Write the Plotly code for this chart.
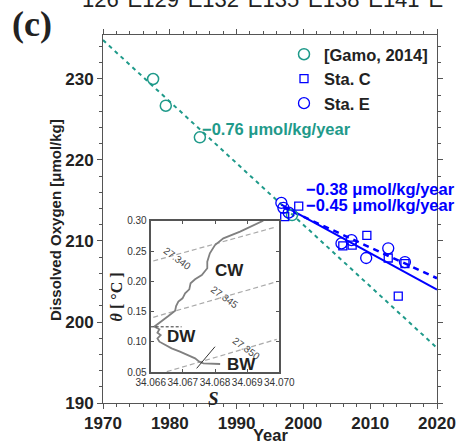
import plotly.graph_objects as go

# ---------------- data ----------------
gamo_year = [1977.5, 1979.4, 1984.5, 1998.3]
gamo_do = [230.0, 226.7, 222.8, 213.2]

staC_year = [1997.2, 1999.3, 2005.9, 2007.3, 2009.5, 2012.7, 2014.2, 2015.2]
staC_do = [213.0, 214.3, 209.4, 209.5, 210.7, 207.9, 203.2, 207.2]

staE_year = [1996.7, 1997.0, 1997.8, 2005.7, 2007.2, 2009.4, 2012.7, 2015.2]
staE_do = [214.7, 214.1, 213.5, 209.7, 210.1, 207.9, 209.1, 207.4]

# trends: (slope per year, value at reference year, start year, end year)
gamo_trend = dict(slope=-0.76, ref_year=1970, ref_val=234.8, x0=1970, x1=2020)
staE_trend = dict(slope=-0.45, ref_year=2000, ref_val=213.0, x0=1996.7, x1=2020)
staC_trend = dict(slope=-0.38, ref_year=2000, ref_val=213.0, x0=1997.0, x1=2020)

# inset theta-S profile
prof_S = [34.06950, 34.06878, 34.06826, 34.06800, 34.06784, 34.06776, 34.06776,
          34.06759, 34.06738, 34.06724, 34.06720, 34.06707, 34.06699, 34.06686,
          34.06679, 34.06676, 34.06655, 34.06639, 34.06621, 34.06611, 34.06627,
          34.06621, 34.06631, 34.06621, 34.06627, 34.06645, 34.06665, 34.06691,
          34.06714, 34.06738, 34.06751, 34.06764, 34.06816]
prof_T = [0.3000, 0.2819, 0.2709, 0.2599, 0.2462, 0.2324, 0.2215,
          0.2105, 0.2033, 0.1967, 0.1868, 0.1802, 0.1720, 0.1665,
          0.1593, 0.1516, 0.1428, 0.1362, 0.1296, 0.1252, 0.1209,
          0.1154, 0.1115, 0.1060, 0.1005, 0.0950, 0.0895, 0.0840,
          0.0785, 0.0730, 0.0675, 0.0648, 0.0637]

# isopycnals (sigma-theta): end points
iso_labels = ["27.340", "27.345", "27.350"]
iso_S = [[34.06608, 34.06992], [34.06608, 34.06992], [34.06650, 34.06992]]
iso_T = [[0.2335, 0.2900], [0.1407, 0.1994], [0.0510, 0.1044]]
iso_lab_S = [34.06683, 34.06831, 34.06898]
iso_lab_T = [0.2379, 0.1736, 0.0895]

dw_S = [34.0660, 34.06696]
dw_T = [0.125, 0.125]
bw_S = [34.06743, 34.06800]
bw_T = [0.0565, 0.0922]

water_labels = ["CW", "DW", "BW"]
water_S = [34.06844, 34.06696, 34.06883]
water_T = [0.2171, 0.1087, 0.0632]

TEAL = "#1f9a8a"
BLUE = "#0000ff"
FONT = "Arial, Liberation Sans, sans-serif"

W, H = 456, 444
ML, MR, MT, MB = 103, 19, 35, 41


def px2paper(px, py):
    return (px - ML) / (W - ML - MR), (H - MB - py) / (H - MT - MB)


def trend_line(t):
    xs = [t["x0"], t["x1"]]
    ys = [t["ref_val"] + t["slope"] * (x - t["ref_year"]) for x in xs]
    return xs, ys


fig = go.Figure()

# trend lines
x, y = trend_line(gamo_trend)
fig.add_trace(go.Scatter(x=x, y=y, mode="lines", showlegend=False,
                         line=dict(color=TEAL, width=2, dash="4px,4px")))
x, y = trend_line(staE_trend)
fig.add_trace(go.Scatter(x=x, y=y, mode="lines", showlegend=False,
                         line=dict(color=BLUE, width=2)))
x, y = trend_line(staC_trend)
fig.add_trace(go.Scatter(x=x, y=y, mode="lines", showlegend=False,
                         line=dict(color=BLUE, width=2.5, dash="6px,5px")))

# data markers
fig.add_trace(go.Scatter(x=gamo_year, y=gamo_do, mode="markers", name="[Gamo, 2014]",
                         marker=dict(symbol="circle-open", size=11, color=TEAL,
                                     line=dict(width=1.5, color=TEAL))))
fig.add_trace(go.Scatter(x=staC_year, y=staC_do, mode="markers", name="Sta. C",
                         marker=dict(symbol="square-open", size=8, color=BLUE,
                                     line=dict(width=1.3, color=BLUE))))
fig.add_trace(go.Scatter(x=staE_year, y=staE_do, mode="markers", name="Sta. E",
                         marker=dict(symbol="circle-open", size=11, color=BLUE,
                                     line=dict(width=1.3, color=BLUE))))

# inset traces
for s, t in zip(iso_S, iso_T):
    fig.add_trace(go.Scatter(x=s, y=t, xaxis="x2", yaxis="y2", mode="lines",
                             showlegend=False,
                             line=dict(color="#aaaaaa", width=1.2, dash="5px,3px")))
fig.add_trace(go.Scatter(x=prof_S, y=prof_T, xaxis="x2", yaxis="y2", mode="lines",
                         showlegend=False, line=dict(color="#808080", width=1.8)))
fig.add_trace(go.Scatter(x=dw_S, y=dw_T, xaxis="x2", yaxis="y2", mode="lines",
                         showlegend=False, line=dict(color="#333333", width=1, dash="3px,2px")))
fig.add_trace(go.Scatter(x=bw_S, y=bw_T, xaxis="x2", yaxis="y2", mode="lines",
                         showlegend=False, line=dict(color="#333333", width=1)))

axis_common = dict(showline=True, linecolor="#555555", linewidth=1, mirror="ticks",
                   ticks="outside", ticklen=5, tickcolor="#555555", showgrid=False,
                   zeroline=False,
                   tickfont=dict(family=FONT, size=17, color="#222222", weight="bold"))

ix0, iy0 = px2paper(150.7, 372.3)
ix1, iy1 = px2paper(279.3, 220.7)

inset_common = dict(showline=True, linecolor="#555555", linewidth=2, mirror="ticks",
                    ticks="inside", ticklen=3, tickcolor="#555555", showgrid=False,
                    zeroline=False, tickangle=0,
                    tickfont=dict(family=FONT, size=10, color="#333333"))

fig.update_layout(
    width=W, height=H,
    margin=dict(l=ML, r=MR, t=MT, b=MB, autoexpand=False),
    paper_bgcolor="white", plot_bgcolor="white",
    font=dict(family=FONT, color="#222222"),
    xaxis=dict(range=[1970, 2020], dtick=10, tick0=1970,
               minor=dict(dtick=2, ticklen=3, ticks="outside", tickcolor="#555555"),
               **axis_common),
    yaxis=dict(range=[190, 235.43], dtick=10, tick0=190,
               minor=dict(dtick=2, ticklen=3, ticks="outside", tickcolor="#555555"),
               **axis_common),
    xaxis2=dict(domain=[ix0, ix1], anchor="y2", range=[34.066, 34.070], dtick=0.001,
                tick0=34.066, tickformat=".3f", **inset_common),
    yaxis2=dict(domain=[iy0, iy1], anchor="x2", range=[0.05, 0.30], dtick=0.05,
                tick0=0.05, tickformat=".2f", **inset_common),
    legend=dict(x=px2paper(284, 0)[0], y=px2paper(0, 37)[1], xanchor="left",
                yanchor="top", bgcolor="rgba(0,0,0,0)", borderwidth=0,
                font=dict(family=FONT, size=16.5, color="#222222", weight="bold"),
                tracegroupgap=0, itemsizing="trace"),
)

annotations = []


def add_text(px, py, text, size, color="#222222", weight="bold", family=FONT,
             xanchor="left", yanchor="middle", angle=0, italic=False):
    x, y = px2paper(px, py)
    annotations.append(dict(x=x, y=y, xref="paper", yref="paper", text=text,
                            showarrow=False, xanchor=xanchor, yanchor=yanchor,
                            textangle=angle,
                            font=dict(family=family, size=size, color=color,
                                      weight=weight,
                                      style="italic" if italic else "normal")))


# trend labels
add_text(200, 129, "−0.76 μmol/kg/year", 16.5, color=TEAL)
add_text(304, 189, "−0.38 μmol/kg/year", 16.5, color=BLUE)
add_text(304, 205, "−0.45 μmol/kg/year", 16.5, color=BLUE)

# axis titles
add_text(55, 220, "Dissolved Oxygen [μmol/kg]", 15, xanchor="center", angle=-90)
add_text(270, 435, "Year", 16.5, xanchor="center")

# panel label and clipped top text
add_text(32, 24, "(c)", 36, family="Liberation Serif, Times New Roman, serif",
         xanchor="center")
add_text(80, 14, "126°E129°E132°E135°E138°E141°E", 22, weight="normal",
         yanchor="bottom")

# inset titles
add_text(116.7, 296.7, "<i>θ</i> [ °C ]", 16, xanchor="center", angle=-90,
         family="Liberation Serif, Times New Roman, serif")
add_text(213, 398, "<i>S</i>", 19, xanchor="center",
         family="Liberation Serif, Times New Roman, serif")

# inset labels in data coordinates
for lab, s, t in zip(iso_labels, iso_lab_S, iso_lab_T):
    annotations.append(dict(x=s, y=t, xref="x2", yref="y2", text=lab, showarrow=False,
                            textangle=36, font=dict(family=FONT, size=10, color="#444444")))
for lab, s, t in zip(water_labels, water_S, water_T):
    annotations.append(dict(x=s, y=t, xref="x2", yref="y2", text=lab, showarrow=False,
                            font=dict(family=FONT, size=17, color="#222222", weight="bold")))

fig.update_layout(annotations=annotations)

fig.write_html("out.html", config={"displayModeBar": False},
               post_script="document.body.style.margin='0';document.body.style.overflow='hidden';")
